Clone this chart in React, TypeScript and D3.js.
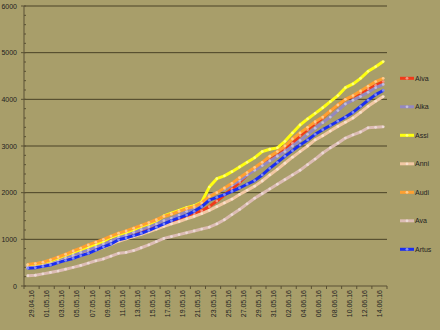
import React from "react";
import * as d3 from "d3";

const dates = [
  "29.04.16","30.04.16",
  "01.05.16","02.05.16","03.05.16","04.05.16","05.05.16","06.05.16","07.05.16","08.05.16","09.05.16","10.05.16",
  "11.05.16","12.05.16","13.05.16","14.05.16","15.05.16","16.05.16","17.05.16","18.05.16","19.05.16","20.05.16",
  "21.05.16","22.05.16","23.05.16","24.05.16","25.05.16","26.05.16","27.05.16","28.05.16","29.05.16","30.05.16","31.05.16",
  "01.06.16","02.06.16","03.06.16","04.06.16","05.06.16","06.06.16","07.06.16","08.06.16","09.06.16","10.06.16",
  "11.06.16","12.06.16","13.06.16","14.06.16","15.06.16"
];

const aiva = [420,440,470,510,570,620,680,730,790,850,900,960,1030,1080,1130,1180,1230,1270,1310,1380,1440,1500,1550,1610,1700,1820,1950,2080,2220,2380,2520,2620,2700,2800,2920,3060,3220,3350,3480,3600,3750,3870,4000,4060,4140,4220,4300,4380];
const aika = [400,420,450,490,550,600,660,720,780,840,900,960,1040,1090,1150,1210,1270,1330,1400,1450,1520,1600,1680,1780,1940,2000,2080,2160,2260,2380,2480,2580,2680,2780,2880,3000,3120,3250,3380,3500,3620,3760,3900,3980,4060,4150,4250,4320];
const assi = [450,470,500,540,600,660,720,780,840,900,960,1040,1100,1150,1210,1280,1330,1400,1500,1560,1620,1680,1720,1800,2120,2300,2360,2450,2550,2650,2750,2880,2930,2960,3100,3280,3450,3580,3700,3820,3950,4080,4250,4330,4450,4600,4700,4810];
const anni = [390,400,430,460,510,560,600,650,710,770,830,890,960,1010,1060,1110,1160,1220,1280,1330,1380,1440,1490,1550,1620,1700,1780,1860,1960,2050,2140,2250,2380,2500,2630,2760,2880,3000,3130,3220,3320,3420,3510,3600,3720,3850,3960,4060];
const audi = [460,480,510,560,620,680,750,810,880,940,1000,1070,1130,1180,1240,1300,1360,1420,1490,1540,1600,1660,1700,1780,1920,2000,2100,2200,2320,2430,2540,2650,2780,2880,3000,3150,3280,3400,3520,3620,3750,3880,4000,4080,4180,4280,4380,4450];
const ava = [220,230,260,290,320,360,400,440,490,540,580,640,700,720,760,820,880,950,1020,1060,1100,1140,1180,1220,1260,1330,1420,1530,1640,1760,1880,1980,2080,2180,2280,2380,2480,2600,2720,2850,2960,3060,3170,3240,3300,3390,3400,3410];
const artus = [380,390,420,450,500,550,590,650,700,770,840,900,990,1030,1080,1130,1190,1260,1330,1400,1460,1520,1600,1700,1840,1900,1960,2030,2100,2180,2260,2380,2520,2650,2780,2900,3020,3130,3250,3350,3440,3530,3620,3720,3850,3980,4100,4190];

const seriesNames = ["Aiva","Aika","Assi","Anni","Audi","Ava","Artus"];
const seriesValues = [aiva, aika, assi, anni, audi, ava, artus];
const seriesColors = ["#f03a1a","#9488c0","#ffff10","#f2c8a4","#ffa030","#dcbcb4","#1a2ef0"];

const yTicks = [0,1000,2000,3000,4000,5000,6000];

const W = 440, H = 330;
const L = 24, R = 387, T = 6, B = 286;

export default function App() {
  const x = d3.scaleBand<string>().domain(dates).range([L, R]).padding(0);
  const bw = x.bandwidth();
  const y = d3.scaleLinear().domain([0, 6000]).range([B, T]);
  const cx = (i: number) => (x(dates[i]) as number) + bw / 2;
  const minor = d3.range(0, 6001, 200);
  const font = "Liberation Sans, Arial, sans-serif";

  return (
    <svg width={W} height={H} style={{ position: "absolute", left: 0, top: 0 }} fontFamily={font}>
      <rect x={0} y={0} width={W} height={H} fill="#a89e6a" />
      {yTicks.filter(t => t > 0).map(t => (
        <line key={"g" + t} x1={L} x2={R} y1={y(t)} y2={y(t)} stroke="#4a4226" strokeWidth={1} />
      ))}
      <line x1={L} x2={L} y1={T} y2={B} stroke="#5a5134" strokeWidth={1} />
      {minor.map(t => (
        <line key={"m" + t} x1={L} x2={L + 2} y1={y(t)} y2={y(t)} stroke="#5a5134" strokeWidth={1} />
      ))}
      {yTicks.map(t => (
        <g key={"yt" + t}>
          <line x1={L - 3} x2={L} y1={y(t)} y2={y(t)} stroke="#5a5134" strokeWidth={1} />
          <text x={17} y={y(t) + 2.5} fontSize={7} textAnchor="end" fill="#222">{t}</text>
        </g>
      ))}
      <line x1={L} x2={R} y1={B} y2={B} stroke="#5a5134" strokeWidth={1} />
      {dates.map((d, i) => i % 2 === 0 ? (
        <line key={"xt" + i} x1={x(d) as number} x2={x(d) as number} y1={B} y2={B + 3} stroke="#5a5134" strokeWidth={1} />
      ) : null)}
      <line x1={R} x2={R} y1={B} y2={B + 3} stroke="#5a5134" strokeWidth={1} />
      {dates.map((d, i) => {
        if (i % 2 !== 0) return null;
        const px = (x(d) as number) + bw + 2.5;
        return (
          <text key={"xl" + i} transform={`translate(${px},${B + 4}) rotate(-90)`} fontSize={7} textAnchor="end" fill="#222">{d}</text>
        );
      })}
      {seriesValues.map((vals, si) => {
        const line = d3.line<number>().x((_, i) => cx(i)).y(v => y(v));
        const col = seriesColors[si];
        const markFill = d3.interpolateRgb(col, "#ffffff")(0.45);
        return (
          <g key={"s" + si}>
            <path d={line(vals) as string} fill="none" stroke={col} strokeWidth={3} strokeLinejoin="round" />
            {vals.map((v, i) => (
              <circle key={i} cx={cx(i)} cy={y(v)} r={1.4} fill={markFill} stroke="none" />
            ))}
          </g>
        );
      })}
      {seriesNames.map((n, i) => {
        const ly = 78.3 + i * 28.5;
        const col = seriesColors[i];
        return (
          <g key={"lg" + i}>
            <line x1={400} x2={414} y1={ly} y2={ly} stroke={col} strokeWidth={3} />
            <circle cx={407} cy={ly} r={1.4} fill={d3.interpolateRgb(col, "#ffffff")(0.45)} />
            <text x={415} y={ly + 2.5} fontSize={7} fill="#222">{n}</text>
          </g>
        );
      })}
    </svg>
  );
}
